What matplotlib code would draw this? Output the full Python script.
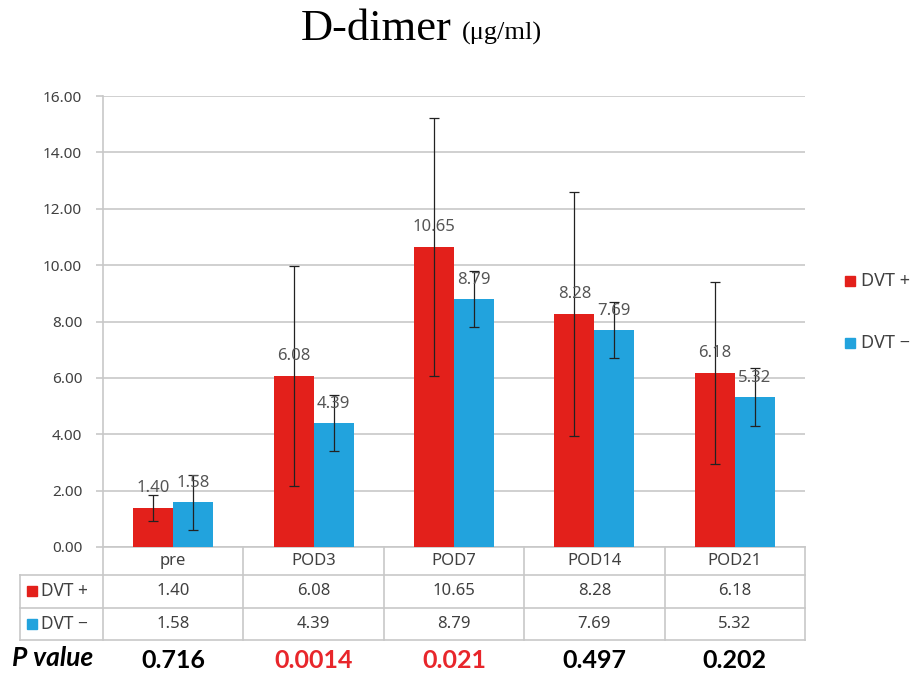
import matplotlib.pyplot as plt
import numpy as np
from matplotlib.patches import Rectangle

categories = ['pre', 'POD3', 'POD7', 'POD14', 'POD21']
dvt_pos = [1.40, 6.08, 10.65, 8.28, 6.18]
dvt_neg = [1.58, 4.39, 8.79, 7.69, 5.32]
err_pos = [0.46, 3.90, 4.57, 4.33, 3.23]
err_neg = [0.98, 1.00, 1.00, 1.00, 1.03]
p_values = ['0.716', '0.0014', '0.021', '0.497', '0.202']
p_colors = ['black', '#e8262b', '#e8262b', 'black', 'black']
series_labels = ['DVT +', 'DVT \u2212']

RED = '#e3201b'
BLUE = '#22a3dd'
GRID = '#c8c8c8'
TXT = '#404040'

plt.rcParams['font.family'] = ['Noto Sans', 'DejaVu Sans']

fig = plt.figure(figsize=(9.13, 6.73), dpi=100)
ax = fig.add_axes([103 / 913, 1 - 547 / 673, 702 / 913, 451 / 673])

x = np.arange(len(categories))
w = 0.285
b1 = ax.bar(x - w / 2, dvt_pos, w, color=RED, label=series_labels[0], zorder=3)
b2 = ax.bar(x + w / 2, dvt_neg, w, color=BLUE, label=series_labels[1], zorder=3)
ax.errorbar(x - w / 2, dvt_pos, yerr=err_pos, fmt='none', ecolor='#222222',
            elinewidth=0.9, capsize=3.5, capthick=0.9, zorder=5)
ax.errorbar(x + w / 2, dvt_neg, yerr=err_neg, fmt='none', ecolor='#222222',
            elinewidth=0.9, capsize=3.5, capthick=0.9, zorder=5)

for bars, vals in ((b1, dvt_pos), (b2, dvt_neg)):
    for r, v in zip(bars, vals):
        ax.annotate(f'{v:.2f}', (r.get_x() + r.get_width() / 2, v),
                    xytext=(0, 14), textcoords='offset points',
                    ha='center', va='center', fontsize=12, color='#555555', zorder=6)

ax.set_xlim(-0.5, len(categories) - 0.5)
ax.set_ylim(0, 16)
ax.set_yticks(np.arange(0, 17, 2))
ax.set_yticklabels([f'{v:.2f}' for v in np.arange(0, 17, 2)], fontsize=11, color=TXT)
ax.tick_params(axis='y', length=5, width=1.2, color=GRID, pad=10)
ax.set_xticks([])
ax.grid(axis='y', color=GRID, linewidth=1.2, zorder=0)
for s in ['top', 'right', 'bottom']:
    ax.spines[s].set_visible(False)
ax.spines['left'].set_color(GRID)
ax.spines['left'].set_linewidth(1.2)

# data table under the chart
tr = ax.get_xaxis_transform()
rows = [0, -0.062, -0.135, -0.206]
xl = -0.5 + (20 - 103) / 140.4
xr = len(categories) - 0.5
lk = dict(color=GRID, linewidth=1.2, transform=tr, clip_on=False)
ax.plot([-0.5, xr], [0, 0], **lk)
for yy in rows[1:]:
    ax.plot([xl, xr], [yy, yy], **lk)
for xx in np.arange(-0.5, len(categories)):
    ax.plot([xx, xx], [0, rows[-1]], **lk)
ax.plot([xl, xl], [rows[1], rows[-1]], **lk)

for i, c in enumerate(categories):
    ax.text(i, -0.031, c, transform=tr, ha='center', va='center', fontsize=12, color=TXT)
    ax.text(i, -0.098, f'{dvt_pos[i]:.2f}', transform=tr, ha='center', va='center',
            fontsize=12, color=TXT)
    ax.text(i, -0.170, f'{dvt_neg[i]:.2f}', transform=tr, ha='center', va='center',
            fontsize=12, color=TXT)
    ax.text(i, -0.251, p_values[i], transform=tr, ha='center', va='center',
            fontsize=18, fontweight='bold', color=p_colors[i], family='Lato')

for yc, col, lab in ((591, RED, series_labels[0]), (624, BLUE, series_labels[1])):
    fig.add_artist(Rectangle((27 / 913, 1 - (yc + 5) / 673), 10 / 913, 10 / 673,
                             color=col, transform=fig.transFigure))
    fig.text(41 / 913, 1 - yc / 673, lab, ha='left', va='center', fontsize=12.5, color=TXT)

fig.text(12 / 913, 1 - 658 / 673, 'P value', ha='left', va='center', fontsize=19,
         fontweight='bold', style='italic', family='Lato')

# legend
for yc, col, lab in ((281, RED, series_labels[0]), (343, BLUE, series_labels[1])):
    fig.add_artist(Rectangle((845 / 913, 1 - (yc + 5) / 673), 10 / 913, 10 / 673,
                             color=col, transform=fig.transFigure))
    fig.text(861 / 913, 1 - yc / 673, lab, ha='left', va='center', fontsize=13, color=TXT)

# title
fig.text(452 / 913, 1 - 40 / 673, 'D-dimer', ha='right', va='baseline',
         fontsize=32, family='Liberation Serif')
fig.text(462 / 913, 1 - 40 / 673, '(\u03bcg/ml)', ha='left', va='baseline',
         fontsize=19, family='Liberation Serif')

fig.savefig('out.png', dpi=100)
